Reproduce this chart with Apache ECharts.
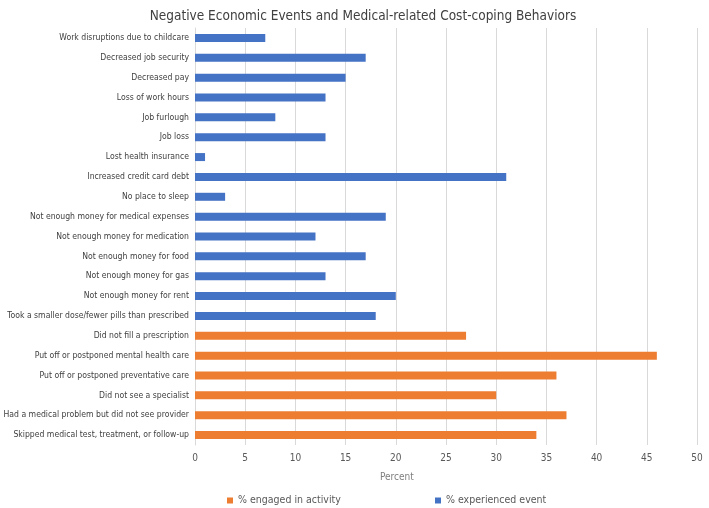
<!DOCTYPE html>
<html><head><meta charset="utf-8">
<script src="https://cdn.jsdelivr.net/npm/echarts@6/dist/echarts.min.js"></script>
<style>html,body{margin:0;padding:0;background:#fff}#c{width:709px;height:508px}</style>
</head><body><div id="c"></div>
<script>
const categories = [
  "Work disruptions due to childcare",
  "Decreased job security",
  "Decreased pay",
  "Loss of work hours",
  "Job furlough",
  "Job loss",
  "Lost health insurance",
  "Increased credit card debt",
  "No place to sleep",
  "Not enough money for medical expenses",
  "Not enough money for medication",
  "Not enough money for food",
  "Not enough money for gas",
  "Not enough money for rent",
  "Took a smaller dose/fewer pills than prescribed",
  "Did not fill a prescription",
  "Put off or postponed mental health care",
  "Put off or postponed preventative care",
  "Did not see a specialist",
  "Had a medical problem but did not see provider",
  "Skipped medical test, treatment, or follow-up"
];
const experiencedEvent = [7,17,15,13,8,13,1,31,3,19,12,17,13,20,18,null,null,null,null,null,null];
const engagedActivity = [null,null,null,null,null,null,null,null,null,null,null,null,null,null,null,27,46,36,30,37,34];
const seriesNames = ["% engaged in activity", "% experienced event"];
const titleText = "Negative Economic Events and Medical-related Cost-coping Behaviors";
const axisName = "Percent";

const FONT = "'Liberation Sans Narrow','DejaVu Sans Condensed','Liberation Sans',sans-serif";
const chart = echarts.init(document.getElementById('c'));
chart.setOption({
  animation: false,
  title: { text: titleText, left: 358, top: 4, textAlign: 'center',
    textStyle: { fontFamily: FONT, fontSize: 13.5, fontWeight: 'normal', color: '#404040' } },
  graphic: [{ type: 'text', left: 380, top: 472,
    style: { text: axisName, font: "10px " + FONT, fill: '#7f7f7f' } }],
  legend: [
    { data: [seriesNames[0]], left: 222, top: 490, icon: 'rect', itemWidth: 6, itemHeight: 6, itemGap: 6,
      textStyle: { fontFamily: FONT, fontSize: 10.5, color: '#595959' } },
    { data: [seriesNames[1]], left: 430, top: 490, icon: 'rect', itemWidth: 6, itemHeight: 6, itemGap: 6,
      textStyle: { fontFamily: FONT, fontSize: 10.5, color: '#595959' } }
  ],
  grid: { left: 195, right: 12, top: 28, height: 417, containLabel: false, outerBoundsMode: 'none' },
  xAxis: { type: 'value', min: 0, max: 50, interval: 5,
    axisLine: { show: false }, axisTick: { show: false },
    splitLine: { lineStyle: { color: '#d9d9d9', width: 1 } },
    axisLabel: { fontFamily: FONT, fontSize: 10, color: '#595959', margin: 8 } },
  yAxis: { type: 'category', data: categories, inverse: true,
    axisLine: { show: true, lineStyle: { color: '#d9d9d9' } }, axisTick: { show: false },
    axisLabel: { fontFamily: FONT, fontSize: 8.6, color: '#404040', margin: 6 } },
  series: [
    { name: seriesNames[0], type: 'bar', data: engagedActivity, barWidth: 8, barGap: '-100%',
      itemStyle: { color: '#ED7D31' } },
    { name: seriesNames[1], type: 'bar', data: experiencedEvent, barWidth: 8, barGap: '-100%',
      itemStyle: { color: '#4472C4' } }
  ]
});
</script></body></html>
